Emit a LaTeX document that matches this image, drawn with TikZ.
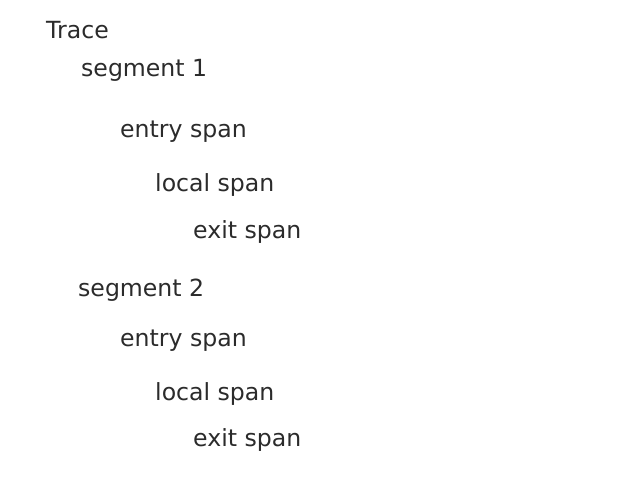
\documentclass[tikz,border=0pt]{standalone}
\usepackage{fontspec}
\setmainfont{DejaVu Sans}
\definecolor{txt}{HTML}{2B2B2B}
\begin{document}
\begin{tikzpicture}[x=1pt,y=1pt,
  lbl/.style={anchor=base west,inner sep=0pt,text=txt,font=\fontsize{23.6}{28}\selectfont}]
\useasboundingbox[fill=white] (0,0) rectangle (644,-478);
\node[lbl] (trace) at (46,-39) {Trace};
\node[lbl] (seg1) at (81,-77) {segment 1};
\node[lbl] (entry1) at (120,-138) {entry span};
\node[lbl] (local1) at (155,-192) {local span};
\node[lbl] (exit1) at (193,-238) {exit span};
\node[lbl] (seg2) at (78,-296) {segment 2};
\node[lbl] (entry2) at (120,-346) {entry span};
\node[lbl] (local2) at (155,-400) {local span};
\node[lbl] (exit2) at (193,-446) {exit span};
\end{tikzpicture}
\end{document}
